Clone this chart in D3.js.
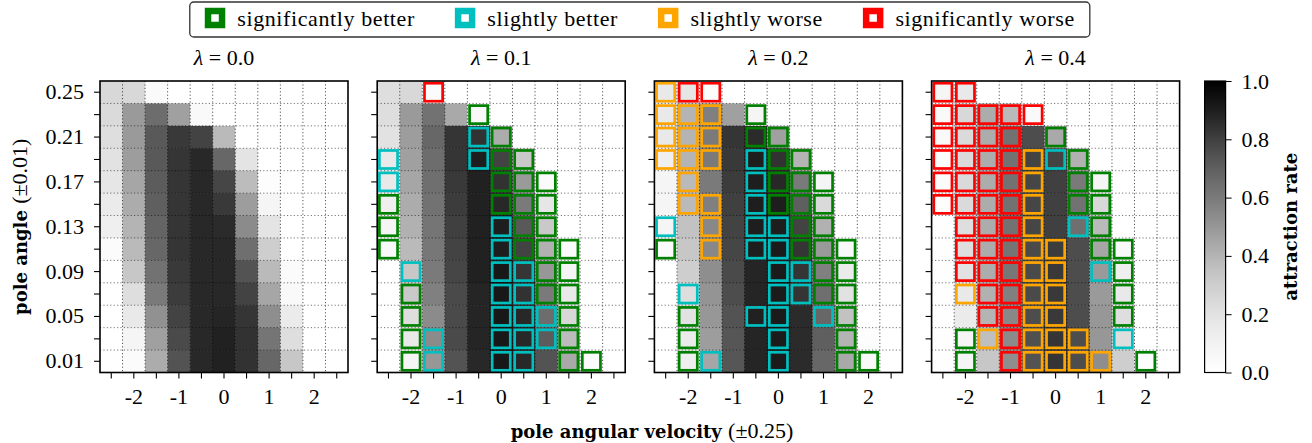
<!DOCTYPE html>
<html>
<head>
<meta charset="utf-8">
<script src="https://cdnjs.cloudflare.com/ajax/libs/d3/7.8.5/d3.min.js"></script>
<style>
  body { margin: 0; background: #fff; }
</style>
</head>
<body>
<div id="chart"></div>
<script>
// grid: columns = pole angular velocity, rows = pole angle (top row first)
var velocities = [-2.5, -2, -1.5, -1, -0.5, 0, 0.5, 1, 1.5, 2, 2.5];
var angles = [0.25, 0.23, 0.21, 0.19, 0.17, 0.15, 0.13, 0.11, 0.09, 0.07, 0.05, 0.03, 0.01];
var angleLabels = [0.25, 0.21, 0.17, 0.13, 0.09, 0.05, 0.01];
var lambdas = ["0.0", "0.1", "0.2", "0.4"];
var colorbarTicks = [0, 0.2, 0.4, 0.6, 0.8, 1.0];

var categories = ["significantly better", "slightly better", "slightly worse", "significantly worse"];
var categoryCodes = ["G", "C", "O", "R"];
var categoryColors = ["#008000", "#00bfbf", "#ffa500", "#ff0000"];

// attraction rate per cell
var rates00 = [
  [0.25, 0.25, 0.04, 0, 0, 0, 0, 0, 0, 0, 0],
  [0.24, 0.49, 0.65, 0.47, 0.05, 0, 0, 0, 0, 0, 0],
  [0.22, 0.49, 0.72, 0.82, 0.79, 0.38, 0, 0, 0, 0, 0],
  [0.20, 0.48, 0.72, 0.83, 0.87, 0.67, 0.19, 0, 0, 0, 0],
  [0.18, 0.45, 0.71, 0.83, 0.87, 0.78, 0.37, 0.02, 0, 0, 0],
  [0.15, 0.43, 0.70, 0.83, 0.87, 0.82, 0.48, 0.08, 0, 0, 0],
  [0.12, 0.40, 0.68, 0.83, 0.87, 0.86, 0.54, 0.19, 0, 0, 0],
  [0.03, 0.38, 0.67, 0.83, 0.87, 0.87, 0.64, 0.30, 0, 0, 0],
  [0, 0.33, 0.63, 0.82, 0.87, 0.87, 0.74, 0.38, 0.03, 0, 0],
  [0, 0.22, 0.60, 0.81, 0.87, 0.87, 0.79, 0.45, 0.05, 0, 0],
  [0, 0.16, 0.52, 0.79, 0.87, 0.88, 0.83, 0.53, 0.15, 0, 0],
  [0, 0.08, 0.47, 0.77, 0.87, 0.89, 0.84, 0.62, 0.22, 0, 0],
  [0, 0.03, 0.43, 0.74, 0.87, 0.89, 0.84, 0.67, 0.33, 0, 0]
];
var rates01 = [
  [0.22, 0.25, 0.03, 0, 0, 0, 0, 0, 0, 0, 0],
  [0.22, 0.49, 0.63, 0.44, 0.05, 0, 0, 0, 0, 0, 0],
  [0.20, 0.48, 0.67, 0.83, 0.84, 0.43, 0, 0, 0, 0, 0],
  [0.16, 0.47, 0.65, 0.83, 0.90, 0.79, 0.32, 0, 0, 0, 0],
  [0.16, 0.45, 0.64, 0.82, 0.89, 0.84, 0.49, 0.03, 0, 0, 0],
  [0.12, 0.43, 0.63, 0.81, 0.89, 0.87, 0.60, 0.18, 0, 0, 0],
  [0.08, 0.41, 0.62, 0.80, 0.89, 0.90, 0.72, 0.32, 0, 0, 0],
  [0.05, 0.38, 0.61, 0.79, 0.89, 0.90, 0.79, 0.41, 0.03, 0, 0],
  [0, 0.33, 0.60, 0.78, 0.89, 0.92, 0.83, 0.50, 0.08, 0, 0],
  [0, 0.32, 0.58, 0.77, 0.88, 0.92, 0.84, 0.60, 0.16, 0, 0],
  [0, 0.22, 0.54, 0.77, 0.88, 0.92, 0.87, 0.65, 0.25, 0, 0],
  [0, 0.16, 0.54, 0.77, 0.88, 0.92, 0.87, 0.71, 0.37, 0, 0],
  [0, 0.08, 0.50, 0.74, 0.87, 0.92, 0.87, 0.74, 0.44, 0.03, 0]
];
var rates02 = [
  [0.16, 0.18, 0.03, 0, 0, 0, 0, 0, 0, 0, 0],
  [0.16, 0.40, 0.58, 0.47, 0.08, 0, 0, 0, 0, 0, 0],
  [0.16, 0.40, 0.60, 0.83, 0.86, 0.47, 0, 0, 0, 0, 0],
  [0.12, 0.40, 0.60, 0.82, 0.90, 0.84, 0.40, 0, 0, 0, 0],
  [0.08, 0.38, 0.60, 0.81, 0.90, 0.87, 0.60, 0.08, 0, 0, 0],
  [0.08, 0.38, 0.58, 0.80, 0.90, 0.90, 0.70, 0.24, 0, 0, 0],
  [0.08, 0.35, 0.55, 0.79, 0.90, 0.90, 0.79, 0.41, 0, 0, 0],
  [0.03, 0.33, 0.55, 0.78, 0.90, 0.91, 0.83, 0.49, 0.05, 0, 0],
  [0, 0.30, 0.53, 0.77, 0.88, 0.91, 0.83, 0.58, 0.15, 0, 0],
  [0, 0.22, 0.51, 0.76, 0.88, 0.91, 0.83, 0.64, 0.20, 0, 0],
  [0, 0.20, 0.50, 0.74, 0.89, 0.91, 0.86, 0.67, 0.35, 0, 0],
  [0, 0.15, 0.48, 0.73, 0.88, 0.91, 0.86, 0.70, 0.40, 0.02, 0],
  [0, 0.12, 0.45, 0.73, 0.88, 0.91, 0.86, 0.67, 0.44, 0.05, 0]
];
var rates04 = [
  [0.08, 0.16, 0, 0, 0, 0, 0, 0, 0, 0, 0],
  [0.05, 0.25, 0.43, 0.38, 0.05, 0, 0, 0, 0, 0, 0],
  [0.05, 0.24, 0.43, 0.63, 0.76, 0.44, 0, 0, 0, 0, 0],
  [0.03, 0.24, 0.43, 0.63, 0.79, 0.79, 0.41, 0, 0, 0, 0],
  [0.03, 0.24, 0.43, 0.63, 0.78, 0.80, 0.60, 0.08, 0, 0, 0],
  [0.02, 0.24, 0.43, 0.63, 0.78, 0.80, 0.63, 0.25, 0, 0, 0],
  [0.01, 0.22, 0.43, 0.63, 0.78, 0.80, 0.64, 0.38, 0, 0, 0],
  [0.01, 0.22, 0.43, 0.62, 0.77, 0.81, 0.76, 0.45, 0.05, 0, 0],
  [0.01, 0.20, 0.43, 0.61, 0.77, 0.82, 0.76, 0.49, 0.12, 0, 0],
  [0.01, 0.16, 0.41, 0.58, 0.77, 0.82, 0.76, 0.49, 0.16, 0, 0],
  [0.01, 0.15, 0.40, 0.55, 0.76, 0.82, 0.76, 0.50, 0.22, 0, 0],
  [0.01, 0.08, 0.36, 0.54, 0.75, 0.83, 0.76, 0.50, 0.22, 0, 0],
  [0.01, 0.08, 0.33, 0.53, 0.74, 0.83, 0.76, 0.53, 0.30, 0.02, 0]
];

// outline category per cell (G/C/O/R, "." = none)
var marks00 = [
  "...........", "...........", "...........", "...........", "...........",
  "...........", "...........", "...........", "...........", "...........",
  "...........", "...........", "..........."
];
var marks01 = [
  "..R........",
  "....G......",
  "....CG.....",
  "C...CGG....",
  "C....GGG...",
  "G....GGG...",
  "G....CGG...",
  "G....CGGG..",
  ".C...CCGG..",
  ".G...CCGG..",
  ".G...CCCG..",
  ".GC..CCCG..",
  ".GC..CC.GG."
];
var marks02 = [
  "ORR........",
  "OOO.G......",
  "OOO.GG.....",
  "OOO.CGG....",
  ".O..CGGG...",
  ".OO.CGGG...",
  "C.O.CCGG...",
  "G.O.CCGGG..",
  ".....CCGG..",
  ".C...CCGG..",
  ".G..CC.CG..",
  ".G...C..G..",
  ".GC..C..GG."
];
var marks04 = [
  "RR.........",
  "RRRRR......",
  "RRRR.G.....",
  "RRRROCG....",
  "RRRRO.GG...",
  "RRRRO.GG...",
  ".RRRO.CG...",
  ".RRROO.GG..",
  ".RRROO.CG..",
  ".ORROO..G..",
  "..RROO..G..",
  ".GOROOO.C..",
  ".G.ROOOO.G."
];

var panels = [
  {lambda: lambdas[0], rates: rates00, marks: marks00},
  {lambda: lambdas[1], rates: rates01, marks: marks01},
  {lambda: lambdas[2], rates: rates02, marks: marks02},
  {lambda: lambdas[3], rates: rates04, marks: marks04}
];

var w = 1312, h = 443;
var marginLeft = 100, marginTop = 81;
var panelW = 248, panelH = 291.5, panelStep = 277.2;
var fontSize = 22;

var svg = d3.select("#chart").append("svg")
  .attr("width", w)
  .attr("height", h)
  .style("font-family", '"Liberation Serif", serif');

var x = d3.scaleBand().domain(velocities).range([0, panelW]);
var y = d3.scaleBand().domain(angles).range([0, panelH]);
var color = d3.scaleSequential(d3.interpolateGreys).domain([0, 1]);
var markColor = d3.scaleOrdinal().domain(categoryCodes).range(categoryColors);

panels.forEach(function(p, k) {
  var g = svg.append("g")
    .attr("transform", "translate(" + (marginLeft + k * panelStep) + "," + marginTop + ")");

  var cells = [];
  p.rates.forEach(function(row, i) {
    row.forEach(function(v, j) {
      cells.push({angle: angles[i], vel: velocities[j], rate: v, mark: p.marks[i][j]});
    });
  });

  g.selectAll(".cell")
    .data(cells)
    .enter()
    .append("rect")
    .attr("class", "cell")
    .attr("x", function(d) { return x(d.vel); })
    .attr("y", function(d) { return y(d.angle); })
    .attr("width", x.bandwidth() + 0.5)
    .attr("height", y.bandwidth() + 0.5)
    .attr("fill", function(d) { return color(d.rate); });

  g.selectAll(".mark")
    .data(cells.filter(function(d) { return d.mark != "."; }))
    .enter()
    .append("rect")
    .attr("class", "mark")
    .attr("x", function(d) { return x(d.vel) + 2.2; })
    .attr("y", function(d) { return y(d.angle) + 2.2; })
    .attr("width", x.bandwidth() - 4.4)
    .attr("height", y.bandwidth() - 4.4)
    .attr("fill", "none")
    .attr("stroke", function(d) { return markColor(d.mark); })
    .attr("stroke-width", 2.7);

  // dotted grid on cell boundaries
  g.selectAll(".vgrid")
    .data(velocities.slice(1))
    .enter()
    .append("line")
    .attr("x1", function(d) { return x(d); })
    .attr("x2", function(d) { return x(d); })
    .attr("y1", 0)
    .attr("y2", panelH)
    .attr("stroke", "#000")
    .attr("stroke-opacity", 0.75)
    .attr("stroke-width", 0.9)
    .attr("stroke-dasharray", "1.2,2.2");

  g.selectAll(".hgrid")
    .data(angles.slice(1))
    .enter()
    .append("line")
    .attr("x1", 0)
    .attr("x2", panelW)
    .attr("y1", function(d) { return y(d); })
    .attr("y2", function(d) { return y(d); })
    .attr("stroke", "#000")
    .attr("stroke-opacity", 0.6)
    .attr("stroke-width", 0.9)
    .attr("stroke-dasharray", "1.2,2.2");

  //X Axis
  var xAxis = g.append("g")
    .attr("transform", "translate(0," + panelH + ")")
    .call(d3.axisBottom(x).tickSize(6).tickPadding(10)
      .tickFormat(function(d) { return Number.isInteger(d) ? String(d) : ""; }));
  xAxis.select(".domain").remove();
  xAxis.attr("font-family", null).attr("font-size", fontSize);
  xAxis.selectAll("line").attr("stroke-width", 1.1);

  var yAxis = g.append("g")
    .call(d3.axisLeft(y).tickSize(6).tickPadding(10)
      .tickFormat(function(d) {
        return (k == 0 && angleLabels.indexOf(d) >= 0) ? d3.format(".2f")(d) : "";
      }));
  yAxis.select(".domain").remove();
  yAxis.attr("font-family", null).attr("font-size", fontSize);
  yAxis.selectAll("line").attr("stroke-width", 1.1);

  g.append("rect")
    .attr("width", panelW)
    .attr("height", panelH)
    .attr("fill", "none")
    .attr("stroke", "#000")
    .attr("stroke-width", 1.6);

  var title = g.append("text")
    .attr("x", panelW / 2)
    .attr("y", -16)
    .attr("text-anchor", "middle")
    .attr("font-size", fontSize);
  title.append("tspan").attr("font-style", "italic").text("λ");
  title.append("tspan").text(" = " + p.lambda);
});

// colorbar
var cbX = marginLeft + 3 * panelStep + panelW + 25;
var cbW = 21;
var cScale = d3.scaleLinear().domain([0, 1]).range([marginTop + panelH, marginTop]);

var grad = svg.append("defs").append("linearGradient")
  .attr("id", "greys")
  .attr("x1", 0).attr("y1", 1).attr("x2", 0).attr("y2", 0);
grad.selectAll("stop")
  .data(d3.range(0, 1.0001, 0.05))
  .enter()
  .append("stop")
  .attr("offset", function(d) { return d; })
  .attr("stop-color", function(d) { return color(d); });

svg.append("rect")
  .attr("x", cbX)
  .attr("y", marginTop)
  .attr("width", cbW)
  .attr("height", panelH)
  .attr("fill", "url(#greys)")
  .attr("stroke", "#000")
  .attr("stroke-width", 1.2);

var cbAxis = svg.append("g")
  .attr("transform", "translate(" + (cbX + cbW) + ",0)")
  .call(d3.axisRight(cScale).tickValues(colorbarTicks).tickSize(6).tickPadding(10)
    .tickFormat(d3.format(".1f")));
cbAxis.select(".domain").remove();
cbAxis.attr("font-family", null).attr("font-size", fontSize);

svg.append("text")
  .attr("transform", "translate(" + (cbX + cbW + 71) + "," + (marginTop + panelH / 2) + ") rotate(-90)")
  .attr("text-anchor", "middle")
  .attr("font-family", '"DejaVu Serif", serif')
  .attr("font-weight", "bold")
  .attr("font-size", 18)
  .text("attraction rate");

// axis labels
var yLabel = svg.append("text")
  .attr("transform", "translate(27," + (marginTop + panelH / 2) + ") rotate(-90)")
  .attr("text-anchor", "middle");
yLabel.append("tspan")
  .attr("font-family", '"DejaVu Serif", serif')
  .attr("font-weight", "bold")
  .attr("font-size", 18)
  .text("pole angle ");
yLabel.append("tspan")
  .attr("font-size", fontSize)
  .text("(±0.01)");

var xLabel = svg.append("text")
  .attr("x", 652)
  .attr("y", 438)
  .attr("text-anchor", "middle");
xLabel.append("tspan")
  .attr("font-family", '"DejaVu Serif", serif')
  .attr("font-weight", "bold")
  .attr("font-size", 18)
  .text("pole angular velocity ");
xLabel.append("tspan")
  .attr("font-size", fontSize)
  .text("(±0.25)");

// legend
var handle = 14, handleStroke = 6.5, handlePad = 12, colSpacing = 40, boxPad = 15;
var legendCenter = marginLeft + (3 * panelStep + panelW) / 2;

var legend = svg.append("g");
var frame = legend.append("rect");
var items = legend.selectAll(".item")
  .data(categories.map(function(c, i) { return {name: c, color: categoryColors[i]}; }))
  .enter()
  .append("g")
  .attr("class", "item");

items.append("rect")
  .attr("x", handleStroke / 2)
  .attr("y", 18 - handle / 2)
  .attr("width", handle)
  .attr("height", handle)
  .attr("fill", "#fff")
  .attr("stroke", function(d) { return d.color; })
  .attr("stroke-width", handleStroke);

items.append("text")
  .attr("x", handle + handleStroke + handlePad)
  .attr("y", 25.5)
  .attr("font-size", fontSize)
  .attr("letter-spacing", 0.6)
  .text(function(d) { return d.name; });

var pos = 0;
items.each(function(d) {
  d.x = pos;
  var tw = d3.select(this).select("text").node().getComputedTextLength();
  pos += handle + handleStroke + handlePad + tw + colSpacing;
});
var boxW = pos - colSpacing + 2 * boxPad;
var boxX = legendCenter - boxW / 2;
items.attr("transform", function(d) { return "translate(" + (boxX + boxPad + d.x) + ",0)"; });

frame
  .attr("x", boxX)
  .attr("y", 2)
  .attr("width", boxW)
  .attr("height", 35)
  .attr("rx", 4)
  .attr("fill", "#fff")
  .attr("stroke", "#333")
  .attr("stroke-width", 1.3);
</script>
</body>
</html>
